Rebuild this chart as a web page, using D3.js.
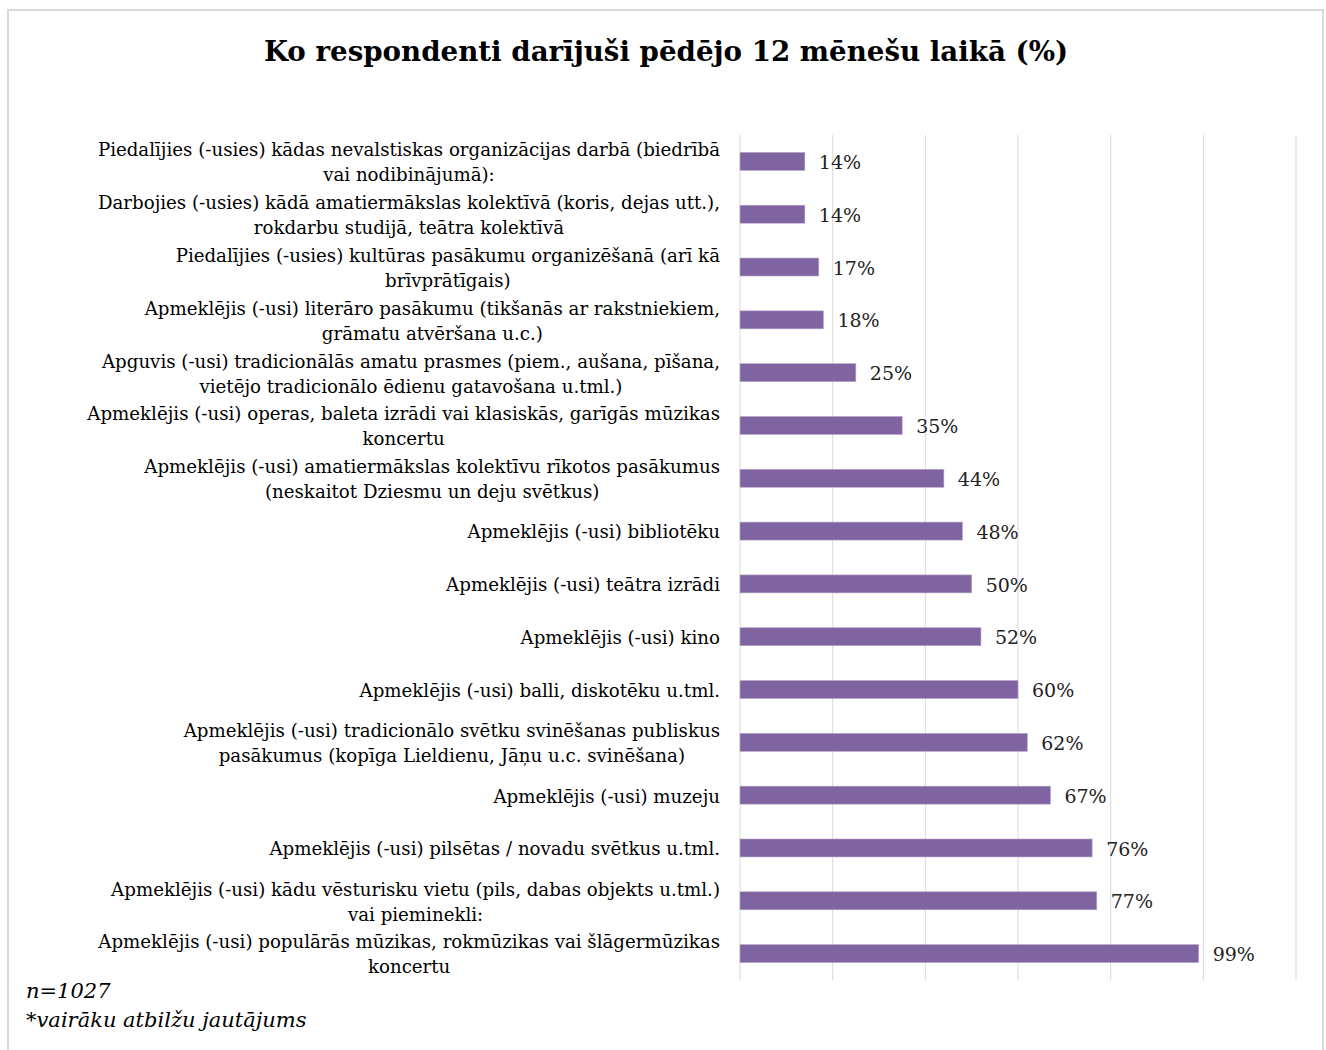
<!DOCTYPE html>
<html>
<head>
<meta charset="utf-8">
<script src="https://cdn.jsdelivr.net/npm/d3@7"></script>
<style>
  body { margin: 0; background: #fff; }
  svg { display: block; }
  text { font-family: "DejaVu Serif", "Liberation Serif", serif; fill: #000; }
</style>
</head>
<body>
<svg id="svg" width="1326" height="1050"></svg>
<script>
// labels top to bottom, lines split as in the chart
const labels = [
    ['Piedalījies (-usies) kādas nevalstiskas organizācijas darbā (biedrībā', 'vai nodibinājumā):'],
    ['Darbojies (-usies) kādā amatiermākslas kolektīvā (koris, dejas utt.),', 'rokdarbu studijā, teātra kolektīvā'],
    ['Piedalījies (-usies) kultūras pasākumu organizēšanā (arī kā', 'brīvprātīgais)'],
    ['Apmeklējis (-usi) literāro pasākumu (tikšanās ar rakstniekiem,', 'grāmatu atvēršana u.c.)'],
    ['Apguvis (-usi) tradicionālās amatu prasmes (piem., aušana, pīšana,', 'vietējo tradicionālo ēdienu gatavošana u.tml.)'],
    ['Apmeklējis (-usi) operas, baleta izrādi vai klasiskās, garīgās mūzikas', 'koncertu'],
    ['Apmeklējis (-usi) amatiermākslas kolektīvu rīkotos pasākumus', '(neskaitot Dziesmu un deju svētkus)'],
    ['Apmeklējis (-usi) bibliotēku'],
    ['Apmeklējis (-usi) teātra izrādi'],
    ['Apmeklējis (-usi) kino'],
    ['Apmeklējis (-usi) balli, diskotēku u.tml.'],
    ['Apmeklējis (-usi) tradicionālo svētku svinēšanas publiskus', 'pasākumus (kopīga Lieldienu, Jāņu u.c. svinēšana)'],
    ['Apmeklējis (-usi) muzeju'],
    ['Apmeklējis (-usi) pilsētas / novadu svētkus u.tml.'],
    ['Apmeklējis (-usi) kādu vēsturisku vietu (pils, dabas objekts u.tml.)', 'vai pieminekli:'],
    ['Apmeklējis (-usi) populārās mūzikas, rokmūzikas vai šlāgermūzikas', 'koncertu']
]
const values = [14, 14, 17, 18, 25, 35, 44, 48, 50, 52, 60, 62, 67, 76, 77, 99]
const gridTicks = [0, 20, 40, 60, 80, 100, 120]
const title = 'Ko respondenti darījuši pēdējo 12 mēnešu laikā (%)'
const notes = ['n=1027', '*vairāku atbilžu jautājums']

const data = labels.map((l, i) => ({ lines: l, value: values[i] }))

const svg = d3.select('#svg')

// outer frame
svg.append('rect')
    .attr('x', 8).attr('y', 10)
    .attr('width', 1315).attr('height', 1060)
    .attr('fill', 'none')
    .attr('stroke', '#d9d9d9')
    .attr('stroke-width', 2)

svg.append('text')
    .attr('x', 666).attr('y', 61)
    .attr('text-anchor', 'middle')
    .style('font-size', '27.7px')
    .style('font-weight', 'bold')
    .text(title)

const plotLeft = 740, plotRight = 1296, plotTop = 135, plotBottom = 980

const x = d3.scaleLinear().domain([0, 120]).range([plotLeft, plotRight])
const y = d3.scaleBand()
    .domain(d3.range(data.length))
    .range([plotTop, plotBottom])
    .paddingInner(0.66)
    .paddingOuter(0.33)

svg.append('g')
    .selectAll('line')
    .data(gridTicks)
    .enter()
    .append('line')
    .attr('x1', (d) => x(d)).attr('x2', (d) => x(d))
    .attr('y1', plotTop).attr('y2', plotBottom)
    .attr('stroke', '#d9d9d9')
    .attr('stroke-width', 1)

svg.append('g')
    .selectAll('rect')
    .data(data)
    .enter()
    .append('rect')
    .attr('x', x(0))
    .attr('y', (d, i) => y(i))
    .attr('width', (d) => x(d.value) - x(0))
    .attr('height', y.bandwidth())
    .attr('fill', '#8064a2')
    .attr('stroke', '#b3a2c7')
    .attr('stroke-width', 0.6)

svg.append('g')
    .selectAll('text')
    .data(data)
    .enter()
    .append('text')
    .attr('x', (d) => x(d.value) + 14)
    .attr('y', (d, i) => y(i) + y.bandwidth() / 2 + 1)
    .attr('dy', '0.35em')
    .style('font-size', '19px')
    .style('fill', '#222')
    .text((d) => d.value + '%')

// category labels: lines centred in a block, block right-aligned to the axis
const labelRight = 720
const lineH = 25
const cats = svg.append('g')
    .selectAll('g')
    .data(data)
    .enter()
    .append('g')

cats.each(function (d, i) {
    const g = d3.select(this)
    const cy = y(i) + y.bandwidth() / 2 + 1
    const texts = d.lines.map((line, j) => g.append('text')
        .attr('y', cy + (j - (d.lines.length - 1) / 2) * lineH)
        .attr('dy', '0.35em')
        .attr('text-anchor', 'middle')
        .style('font-size', '18.2px')
        .text(line))
    const w = d3.max(texts, (t) => t.node().getComputedTextLength())
    texts.forEach((t) => t.attr('x', labelRight - w / 2))
})

svg.append('g')
    .selectAll('text')
    .data(notes)
    .enter()
    .append('text')
    .attr('x', 26)
    .attr('y', (d, i) => 998 + i * 29)
    .style('font-size', '21px')
    .style('font-style', 'italic')
    .text((d) => d)
</script>
</body>
</html>
